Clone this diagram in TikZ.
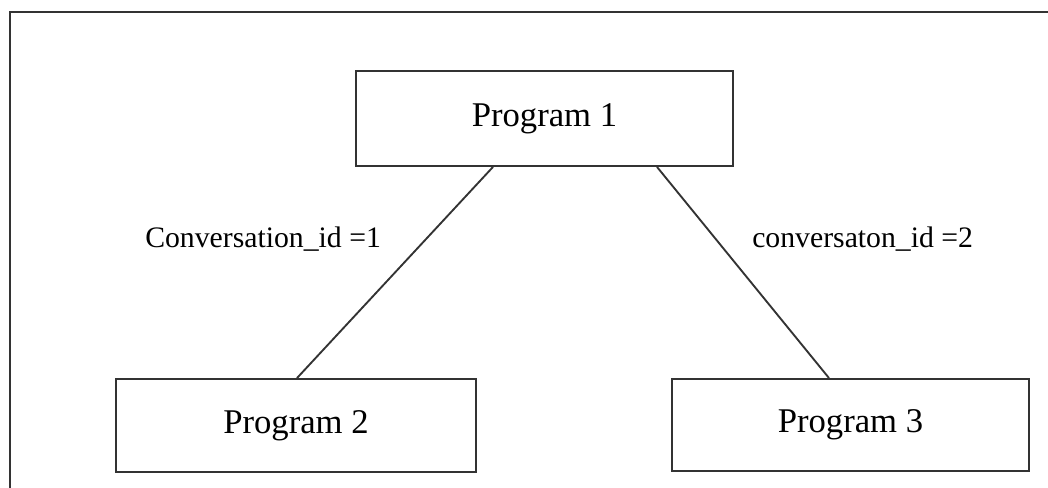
\documentclass[tikz,border=0pt]{standalone}
\usepackage{fontspec}
\setmainfont{Liberation Serif}
\begin{document}
\begin{tikzpicture}[x=0.75pt,y=-0.75pt,
  line/.style={draw=black!80,line width=1.4pt},
  prog/.style={line,rectangle,inner sep=0pt,font=\fontsize{26}{30}\selectfont},
  lbl/.style={font=\fontsize{22.3}{26}\selectfont,inner sep=0pt,anchor=west}]
  \useasboundingbox (0,0) rectangle (1048,488);
  \clip (0,0) rectangle (1048,488);
  % outer frame, running off the right and bottom edges
  \draw[line] (10,12) rectangle (1070,510);
  % program boxes
  \node[prog,minimum width=377*0.75pt,minimum height=95*0.75pt] (p1) at (544.5,118.5) {Program 1};
  \node[prog,minimum width=360*0.75pt,minimum height=93*0.75pt] (p2) at (296,425.5) {Program 2};
  \node[prog,minimum width=357*0.75pt,minimum height=92*0.75pt] (p3) at (850.5,425) {Program 3};
  % connections
  \coordinate (a1) at (493,166);
  \coordinate (a2) at (657,166);
  \draw[line] (p1.south west -| a1) -- (p2.north west -| 297,0);
  \draw[line] (p1.south west -| a2) -- (p3.north west -| 829,0);
  % labels
  \node[lbl] (l1) at (145,239) {Conversation\_id =1};
  \node[lbl] (l2) at (752,239) {conversaton\_id =2};
\end{tikzpicture}
\end{document}
